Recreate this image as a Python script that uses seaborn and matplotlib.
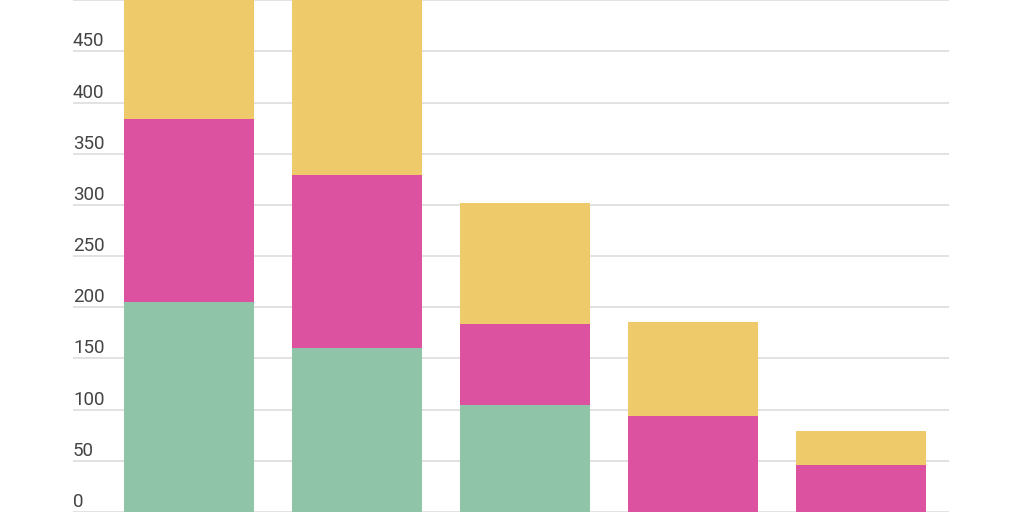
import matplotlib
matplotlib.use("Agg")
import matplotlib.pyplot as plt
import matplotlib.transforms as mtransforms
import seaborn as sns
import pandas as pd

categories = ["A", "B", "C", "D", "E"]
green_vals = [205, 160, 105, 0, 0]
pink_vals = [179, 169, 79, 94, 46]
yellow_vals = [130, 185, 118, 92, 33]
tick_values = [0, 50, 100, 150, 200, 250, 300, 350, 400, 450]
tick_labels = ["0", "50", "100", "150", "200", "250", "300", "350", "400", "450"]

GREEN = "#8FC4A8"
PINK = "#DC52A0"
YELLOW = "#EFCA6A"

df = pd.DataFrame({
    "cat": categories,
    "g": green_vals,
    "p": pink_vals,
    "y": yellow_vals,
})
df["gp"] = df["g"] + df["p"]
df["total"] = df["gp"] + df["y"]

sns.set_theme(style="white")
plt.rcParams["font.family"] = ["Roboto", "DejaVu Sans"]

fig = plt.figure(figsize=(10.24, 5.12), dpi=100)
ax = fig.add_axes([73 / 1024, 0, (949 - 73) / 1024, 1])

w = 130 / 168
sns.barplot(data=df, x="cat", y="total", color=YELLOW, saturation=1, width=w, ax=ax, edgecolor="none", zorder=3)
sns.barplot(data=df, x="cat", y="gp", color=PINK, saturation=1, width=w, ax=ax, edgecolor="none", zorder=3)
sns.barplot(data=df, x="cat", y="g", color=GREEN, saturation=1, width=w, ax=ax, edgecolor="none", zorder=3)

ax.set_xlim(-0.690, 4.524)
ax.set_ylim(2.24, 500.3)
ax.set_yticks(tick_values + [500])
ax.yaxis.grid(True, color="#DDDDDD", linewidth=1.2, zorder=0)
ax.set_axisbelow(True)
ax.tick_params(left=False, bottom=False, labelleft=False, labelbottom=False)
ax.set_xlabel("")
ax.set_ylabel("")
for s in ax.spines.values():
    s.set_visible(False)

trans = mtransforms.blended_transform_factory(ax.transAxes, ax.transData)
offset = mtransforms.offset_copy(trans, fig=fig, x=0, y=5, units="dots")
for v, lab in zip(tick_values, tick_labels):
    ax.text(0.0, v, lab, transform=offset, ha="left", va="baseline",
            fontsize=13.5, color="#444444", clip_on=False, zorder=5)

fig.savefig("out.png", dpi=100)
